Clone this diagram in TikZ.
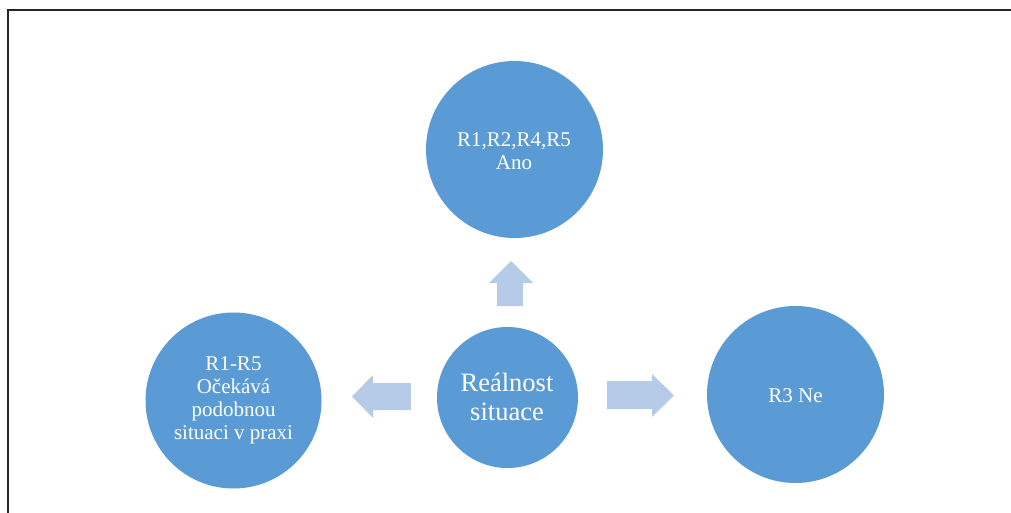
\documentclass[tikz,border=0pt]{standalone}
\usepackage{fontspec}
\setmainfont{Liberation Serif}
\begin{document}
\begin{tikzpicture}[x=1pt,y=-1pt,
  bubble/.style={circle,fill=bubbleblue,inner sep=0pt},
  label/.style={text=white,align=center,font=\fontsize{21}{23}\selectfont},
  blockarrow/.style={fill=arrowblue,draw=none}]
\definecolor{bubbleblue}{HTML}{5B9BD5}
\definecolor{arrowblue}{HTML}{B5CBE8}
\useasboundingbox (0,0) rectangle (1011,513);
% frame
\draw[line width=1.5pt,color=black!85] (8,520) -- (8,10) -- (1020,10);
% circles
\node[bubble,minimum size=177pt] (top) at (514.5,149.5) {};
\node[bubble,minimum size=141pt] (mid) at (507.5,397.5) {};
\node[bubble,minimum size=176pt] (left) at (233.5,400.5) {};
\node[bubble,minimum size=177pt] (right) at (795.5,394.5) {};
% texts
\node[label] (ttop) at (514,151) {R1,R2,R4,R5\\Ano};
\node[label,font=\fontsize{26.5}{29}\selectfont] (tmid) at (507,397) {Reálnost\\situace};
\node[label] (tleft) at (233.5,400) {R1-R5\\Očekává\\podobnou\\situaci v praxi};
\node[label] (tright) at (795.5,395.5) {R3 Ne};
% block arrows
\fill[blockarrow] (497,306) -- (497,283) -- (489,283) -- (511,261) -- (533,283) -- (523,283) -- (523,306) -- cycle;
\fill[blockarrow] (411,383) -- (373,383) -- (373,375) -- (352,396.5) -- (373,418) -- (373,410) -- (411,410) -- cycle;
\fill[blockarrow] (607,381) -- (652,381) -- (652,374) -- (674,395.5) -- (652,417) -- (652,409) -- (607,409) -- cycle;
\end{tikzpicture}
\end{document}
